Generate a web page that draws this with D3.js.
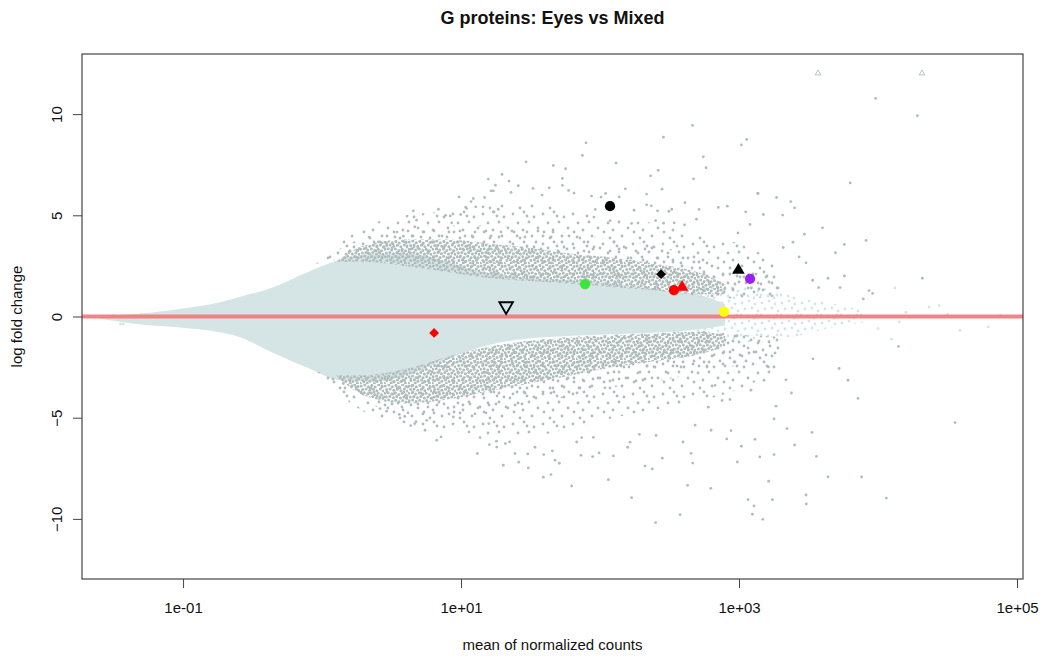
<!DOCTYPE html>
<html>
<head>
<meta charset="utf-8">
<script src="https://cdn.jsdelivr.net/npm/d3@7"></script>
<style>
  html, body { margin: 0; padding: 0; background: #fff; }
  svg { display: block; font-family: "Liberation Sans", Arial, Helvetica, sans-serif; }
</style>
</head>
<body>
<div id="chart"></div>
<script>
// MA plot, "G proteins: Eyes vs Mixed". x = mean of normalized counts (log axis,
// values kept as log10), y = log fold change.

var TITLE = "G proteins: Eyes vs Mixed";
var X_TITLE = "mean of normalized counts";
var Y_TITLE = "log fold change";
var xTickValues = [0.1, 10, 1000, 100000];
var xTickLabels = ["1e-01", "1e+01", "1e+03", "1e+05"];
var yTickValues = [-10, -5, 0, 5, 10];

// dense non-significant cloud, envelope
var lightX  = [-1.6, -1.3, -1.0, -0.8, -0.6, -0.35, -0.1, 0.13, 0.4, 0.65, 0.9, 1.1, 1.4, 1.8, 2.2, 2.5, 2.75, 2.9];
var lightHi = [0.05, 0.15, 0.4, 0.6, 0.95, 1.45, 2.2, 2.8, 3.1, 3.1, 2.7, 2.3, 1.95, 1.8, 1.55, 1.25, 1.0, 0.6];
var lightLo = [-0.1, -0.4, -0.55, -0.7, -1.0, -1.8, -2.55, -3.15, -3.2, -2.8, -2.1, -1.6, -1.15, -0.95, -0.85, -0.75, -0.6, -0.45];

// speckled tail of the non-significant cloud at high counts
var lightTailX  = [2.5, 2.8, 3.1, 3.4, 3.7, 3.9];
var lightTailHi = [1.4, 1.6, 1.5, 1.0, 0.6, 0.3];
var lightTailLo = [-0.9, -1.0, -1.3, -1.0, -0.5, -0.3];

// significant genes: sparse halo, denser mid zone and dense core, upper and lower
var haloX     = [-0.05, 0.3, 0.6, 0.9, 1.2, 1.5, 1.8, 2.1, 2.4, 2.7, 3.0, 3.3];
var haloUpOut = [2.6, 4.4, 5.0, 5.2, 5.5, 5.6, 5.2, 4.8, 4.6, 4.0, 3.6, 2.6];
var haloUpMid = [2.6, 3.9, 4.3, 4.5, 4.5, 4.4, 4.1, 3.8, 3.5, 3.0, 2.4, 1.8];
var haloUpIn  = [2.6, 2.9, 2.9, 2.5, 2.1, 1.85, 1.75, 1.6, 1.3, 1.0, 0.9, 1.0];
var haloLoIn  = [-2.7, -3.0, -2.9, -2.2, -1.6, -1.2, -1.0, -0.9, -0.8, -0.7, -0.9, -1.0];
var haloLoMid = [-2.7, -4.2, -4.8, -4.9, -4.8, -4.4, -3.9, -3.5, -3.2, -2.8, -2.4, -1.8];
var haloLoOut = [-2.7, -4.7, -5.3, -5.6, -5.9, -5.9, -5.5, -5.0, -4.6, -4.2, -3.6, -2.5];

var coreX     = [0.1, 0.3, 0.6, 0.9, 1.2, 1.5, 1.8, 2.1, 2.4, 2.7, 2.9];
var coreUpIn  = [2.7, 2.7, 2.5, 2.2, 1.9, 1.75, 1.6, 1.45, 1.3, 1.1, 1.1];
var coreUpOut = [2.7, 3.5, 3.8, 3.8, 3.6, 3.4, 3.1, 2.9, 2.6, 2.2, 1.6];
var coreLoIn  = [-2.9, -2.9, -2.6, -2.0, -1.5, -1.2, -1.05, -0.95, -0.85, -0.75, -0.9];
var coreLoOut = [-2.9, -3.9, -4.3, -4.1, -3.7, -3.3, -2.9, -2.5, -2.2, -1.9, -1.5];

// individual significant genes outside the dense bands: [log10 mean, lfc]
var sigPoints = [
  [2.665,9.44],[2.456,8.86],[1.899,8.58],[1.873,7.96],[1.468,7.64],[2.115,7.59],[3.055,8.75],[3.017,8.48],
  [2.743,7.89],[2.763,7.35],[1.664,7.46],[1.752,7.3],[1.295,7.02],[1.196,6.79],[1.729,6.82],[2.418,7.22],
  [2.364,6.95],[2.673,6.8],[1.345,6.69],[1.247,6.49],[1.412,6.46],[1.518,6.33],[1.635,6.36],[1.729,6.48],
  [1.774,6.23],[1.813,6.1],[2.182,6.31],[2.446,6.29],[2.335,6.05],[1.36,6.13],[1.216,6.21],[0.986,5.91],
  [1.17,5.88],[1.583,6.0],[1.939,5.95],[2.007,5.9],[2.04,6.08],[2.138,5.91],[2.611,5.62],[3.134,6.08],
  [3.27,5.88],[3.372,5.68],[3.40,5.37],[2.851,5.39],[2.916,5.45],[3.048,5.17],[3.175,5.04],[3.314,5.01],
  [3.079,4.55],[2.712,5.29],[2.495,5.2],[2.516,5.3],[2.414,5.22],[2.335,5.52],[2.369,5.47],[2.245,5.25],
  [1.966,5.29],[2.072,4.74],[2.227,4.6],[2.4,4.74],[2.457,4.61],[2.534,4.63],[2.608,4.53],[2.694,4.81],
  [0.922,4.97],[0.997,5.04],[1.072,5.68],[1.034,5.4],[1.106,5.42],[1.158,5.42],[1.268,5.3],[1.232,5.17],
  [0.837,5.3],[0.657,5.22],[0.68,4.76],[0.667,4.43],[1.088,5.83],[1.04,5.34],[0.889,5.0],[0.933,4.63],
  [0.585,3.97],[0.465,3.61],[0.405,3.69],[0.249,3.28],[0.173,3.08],[1.232,6.21],
  [3.983,10.78],[4.283,9.92],[3.80,6.6],[3.60,4.38],[3.47,4.07],[3.137,6.08],[2.993,4.13],[3.914,3.76],
  [3.758,3.56],[3.694,3.15],[3.318,3.41],[3.388,3.67],[3.432,2.95],[3.482,2.65],[4.319,1.89],[3.758,2.0],
  [3.640,1.89],[3.53,1.79],[3.573,1.43],[3.727,1.43],[3.935,1.28],[3.961,1.14],[3.894,0.87],
  [4.147,-1.48],[3.532,-2.09],[3.72,-2.57],[3.784,-3.15],[3.856,-4.05],[4.554,-5.24],[3.338,-3.13],[3.377,-3.78],
  [3.266,-4.43],[3.252,-5.06],[3.345,-5.54],[3.525,-5.73],[3.40,-6.35],[3.557,-6.91],[3.252,-6.82],[3.149,-6.94],
  [3.115,-6.07],[3.017,-6.41],[2.988,-7.19],[2.912,-6.05],[2.799,-5.62],[2.942,-5.64],[3.64,-7.92],[3.882,-7.93],
  [4.06,-8.97],[3.213,-8.14],[2.797,-8.49],[3.065,-9.05],[3.24,-9.05],[3.108,-9.36],[3.482,-8.82],[3.484,-9.26],
  [3.096,-9.77],[3.171,-10.02],[2.779,-4.48],[2.878,-4.15],[2.935,-4.1],[3.086,-3.64],[3.211,-2.49],[3.18,-3.15],
  [2.827,-3.4],
  [1.117,-6.77],[1.304,-7.35],[1.484,-7.48],[1.592,-7.94],[1.647,-7.81],[1.796,-8.37],[2.06,-8.06],[2.227,-8.95],
  [2.40,-10.18],[2.576,-9.79],[2.63,-8.34],[2.324,-7.39],[2.376,-7.53],[1.707,-7.25],[1.676,-7.1],[1.415,-7.2],
  [1.204,-6.33],[1.255,-6.16],[1.319,-6.28],[1.35,-6.2],[1.388,-6.77],[1.48,-6.79],[1.532,-6.46],[1.595,-6.82],
  [1.657,-6.64],[1.863,-6.86],[1.947,-6.92],[1.993,-6.74],[2.096,-6.89],[1.832,-6.2],[1.868,-5.98],[1.952,-5.97],
  [2.199,-6.46],[2.216,-6.21],[2.283,-5.82],[2.403,-5.88],[2.448,-7.0],[2.597,-6.2],[2.655,-6.76],[2.667,-7.24],
  [2.684,-5.37],
  [0.825,-6.11],[0.856,-5.95],[0.638,-5.39],[0.676,-5.2],[0.741,-5.62],[0.667,-5.29],[0.753,-5.13],[0.945,-4.96],
  [1.2,-5.29],[1.137,-5.98],[1.257,-6.45],[0.556,-4.84],[0.595,-4.94],[0.417,-4.55],[0.465,-4.68],[0.261,-3.64],
  [0.153,-3.31]
];

// stray non-significant genes at the far left and far right
var strayPoints = [
  [-1.45,-0.37],[-1.43,-0.37],[-1.2,-0.37],[-1.13,-0.37],[-1.05,-0.37],[-0.98,-0.4],[-0.9,-0.37],
  [-1.5,0.05],[-1.3,0.1],[-1.15,0.12],
  [4.122,1.41],[4.367,0.47],[4.44,0.54],[4.793,-0.51],[4.59,-0.68],[4.153,-0.27],[4.097,-1.12],
  [4.2,0.2],[4.0,-0.6],[4.5,0.1],[4.88,0.05]
];

// genes beyond the y limit, drawn as open triangles at the edge
var clippedMean = [3700, 20700];
var clippedLfc  = [12.02, 12.02];

// highlighted G protein genes
var hlMean  = [118, 78, 275, 340, 389, 990, 1200, 780, 21.1, 6.4];
var hlLfc   = [5.45, 1.6, 2.09, 1.30, 1.45, 2.29, 1.86, 0.23, 0.51, -0.81];
var hlShape = ["circle", "circle", "diamond", "circle", "triangle", "triangle", "circle", "circle", "triangleDown", "diamond"];
var hlColor = ["#000000", "#3ae63a", "#000000", "#ff0000", "#ff0000", "#000000", "#9b1ff0", "#ffff00", "#000000", "#ff0000"];

(function () {
  var W = 1041, H = 656;
  var M = { left: 82, right: 1023, top: 54, bottom: 579 };

  var x = d3.scaleLog().domain([Math.pow(10, -1.727), Math.pow(10, 5.043)]).range([M.left, M.right]);
  var y = d3.scaleLinear().domain([-12.97, 12.97]).range([M.bottom, M.top]);
  function px(l) { return x(Math.pow(10, l)); }

  var svg = d3.select("#chart").append("svg").attr("width", W).attr("height", H);
  var defs = svg.append("defs");

  defs.append("clipPath").attr("id", "plotclip").append("rect")
    .attr("x", M.left).attr("y", M.top)
    .attr("width", M.right - M.left).attr("height", M.bottom - M.top);

  var LIGHT = "#d5e4e4", DARK = "#b0bcbc";

  // dot textures for the over-plotted regions (hand-placed, irregular)
  function texture(id, size, r, colour, dots) {
    var p = defs.append("pattern").attr("id", id)
      .attr("patternUnits", "userSpaceOnUse").attr("width", size).attr("height", size);
    dots.forEach(function (d) {
      p.append("circle").attr("cx", d[0]).attr("cy", d[1]).attr("r", r).attr("fill", colour);
    });
  }
  texture("core", 24, 1.5, DARK, [
    [1.2,2.1],[4.8,0.9],[8.3,2.7],[11.9,1.4],[15.2,3.0],[18.7,0.8],[22.1,2.4],
    [2.7,5.6],[6.1,4.9],[9.8,6.3],[13.4,5.2],[16.9,6.8],[20.3,5.1],[23.4,6.9],
    [0.6,9.2],[4.2,8.7],[7.7,10.1],[11.3,9.0],[14.8,10.4],[18.2,9.3],[21.6,10.8],
    [2.3,13.0],[5.9,12.4],[9.4,13.8],[12.8,12.6],[16.4,14.0],[19.9,12.9],[23.2,14.3],
    [1.1,16.7],[4.6,16.1],[8.1,17.4],[11.7,16.3],[15.1,17.8],[18.6,16.6],[22.0,18.0],
    [2.9,20.4],[6.4,19.8],[9.9,21.3],[13.5,20.1],[17.0,21.6],[20.5,20.3],[0.4,23.3],
    [7.2,23.1],[14.3,23.5],[21.4,23.0]]);
  texture("mid", 26, 1.4, DARK, [[5,3],[16,8],[23,2],[2,14],[12,17],[21,15],[7,24],[18,23]]);
  texture("halo", 30, 1.4, DARK, [[3,4],[14,2],[24,7],[8,13],[19,12],[28,18],[4,22],[13,20],
    [22,26],[10,28],[17,6]]);
  texture("tail", 20, 1.4, LIGHT, [[2,3],[9,1],[15,4],[5,9],[12,8],[18,11],[1,15],[8,16],[14,18],[17,15]]);

  var plot = svg.append("g").attr("clip-path", "url(#plotclip)");

  function band(xs, hi, lo) {
    return xs.map(function (v, i) { return [v, hi[i], lo[i]]; });
  }
  var area = d3.area()
    .x(function (d) { return px(d[0]); })
    .y0(function (d) { return y(d[2]); })
    .y1(function (d) { return y(d[1]); })
    .curve(d3.curveMonotoneX);

  plot.append("path").datum(band(lightTailX, lightTailHi, lightTailLo))
    .attr("d", area).attr("fill", "url(#tail)");
  plot.append("path").datum(band(lightX, lightHi, lightLo))
    .attr("d", area).attr("fill", LIGHT);

  plot.append("path").datum(band(haloX, haloUpOut, haloUpIn)).attr("d", area).attr("fill", "url(#halo)");
  plot.append("path").datum(band(haloX, haloLoIn, haloLoOut)).attr("d", area).attr("fill", "url(#halo)");
  plot.append("path").datum(band(haloX, haloUpMid, haloUpIn)).attr("d", area).attr("fill", "url(#mid)");
  plot.append("path").datum(band(haloX, haloLoIn, haloLoMid)).attr("d", area).attr("fill", "url(#mid)");
  plot.append("path").datum(band(coreX, coreUpOut, coreUpIn)).attr("d", area).attr("fill", "url(#core)");
  plot.append("path").datum(band(coreX, coreLoIn, coreLoOut)).attr("d", area).attr("fill", "url(#core)");

  plot.append("g").selectAll("circle").data(strayPoints).join("circle")
    .attr("cx", function (d) { return px(d[0]); })
    .attr("cy", function (d) { return y(d[1]); })
    .attr("r", 1.4).attr("fill", LIGHT);

  plot.append("g").selectAll("circle").data(sigPoints).join("circle")
    .attr("cx", function (d) { return px(d[0]); })
    .attr("cy", function (d) { return y(d[1]); })
    .attr("r", 1.4).attr("fill", DARK);

  plot.append("g").selectAll("path").data(clippedMean).join("path")
    .attr("d", d3.symbol(d3.symbolTriangle, 14))
    .attr("transform", function (d, i) { return "translate(" + x(d) + "," + y(clippedLfc[i]) + ")"; })
    .attr("fill", "none").attr("stroke", "#aab4b4").attr("stroke-width", 0.8);

  // zero line
  plot.append("line")
    .attr("x1", M.left).attr("x2", M.right)
    .attr("y1", y(0)).attr("y2", y(0))
    .attr("stroke", "#f07878").attr("stroke-opacity", 0.9).attr("stroke-width", 4);

  // highlighted genes
  var shapes = {
    circle: d3.symbol(d3.symbolCircle, 82)(),
    triangle: d3.symbol(d3.symbolTriangle, 68)(),
    triangleDown: d3.symbol(d3.symbolTriangle, 80)(),
    diamond: d3.symbol(d3.symbolSquare, 48)()
  };
  plot.append("g").selectAll("path").data(hlMean).join("path")
    .attr("d", function (d, i) { return shapes[hlShape[i]]; })
    .attr("transform", function (d, i) {
      var t = "translate(" + x(d) + "," + y(hlLfc[i]) + ")";
      if (hlShape[i] === "diamond") t += " rotate(45)";
      if (hlShape[i] === "triangleDown") t += " rotate(180)";
      return t;
    })
    .attr("fill", function (d, i) { return hlShape[i] === "triangleDown" ? "none" : hlColor[i]; })
    .attr("stroke", function (d, i) { return hlShape[i] === "triangleDown" ? hlColor[i] : "none"; })
    .attr("stroke-width", 1.8);

  // axes
  var xAxis = d3.axisBottom(x).tickValues(xTickValues)
    .tickFormat(function (d, i) { return xTickLabels[i]; })
    .tickSize(9).tickPadding(14).tickSizeOuter(0);
  var gx = svg.append("g").attr("transform", "translate(0," + M.bottom + ")").call(xAxis);
  gx.select(".domain").remove();

  var yAxis = d3.axisLeft(y).tickValues(yTickValues).tickFormat(d3.format("d"))
    .tickSize(9).tickSizeOuter(0);
  var gy = svg.append("g").attr("transform", "translate(" + M.left + ",0)").call(yAxis);
  gy.select(".domain").remove();
  gy.selectAll("text")
    .attr("x", null).attr("dy", null)
    .attr("text-anchor", "middle")
    .attr("transform", "translate(-20,0) rotate(-90)");

  svg.selectAll(".tick line").attr("stroke", "#444");
  svg.selectAll(".tick text").attr("fill", "#111").style("font-size", "15px")
    .style("font-family", "'Liberation Sans', Arial, Helvetica, sans-serif");

  svg.append("rect")
    .attr("x", M.left).attr("y", M.top)
    .attr("width", M.right - M.left).attr("height", M.bottom - M.top)
    .attr("fill", "none").attr("stroke", "#444").attr("stroke-width", 1.2);

  svg.append("text")
    .attr("x", (M.left + M.right) / 2).attr("y", 24)
    .attr("text-anchor", "middle").attr("font-weight", "bold").attr("font-size", 18)
    .attr("fill", "#111").text(TITLE);

  svg.append("text")
    .attr("x", (M.left + M.right) / 2).attr("y", 650)
    .attr("text-anchor", "middle").attr("font-size", 15).attr("fill", "#111").text(X_TITLE);

  svg.append("text")
    .attr("transform", "translate(22," + (M.top + M.bottom) / 2 + ") rotate(-90)")
    .attr("text-anchor", "middle").attr("font-size", 15).attr("fill", "#111").text(Y_TITLE);
})();
</script>
</body>
</html>
